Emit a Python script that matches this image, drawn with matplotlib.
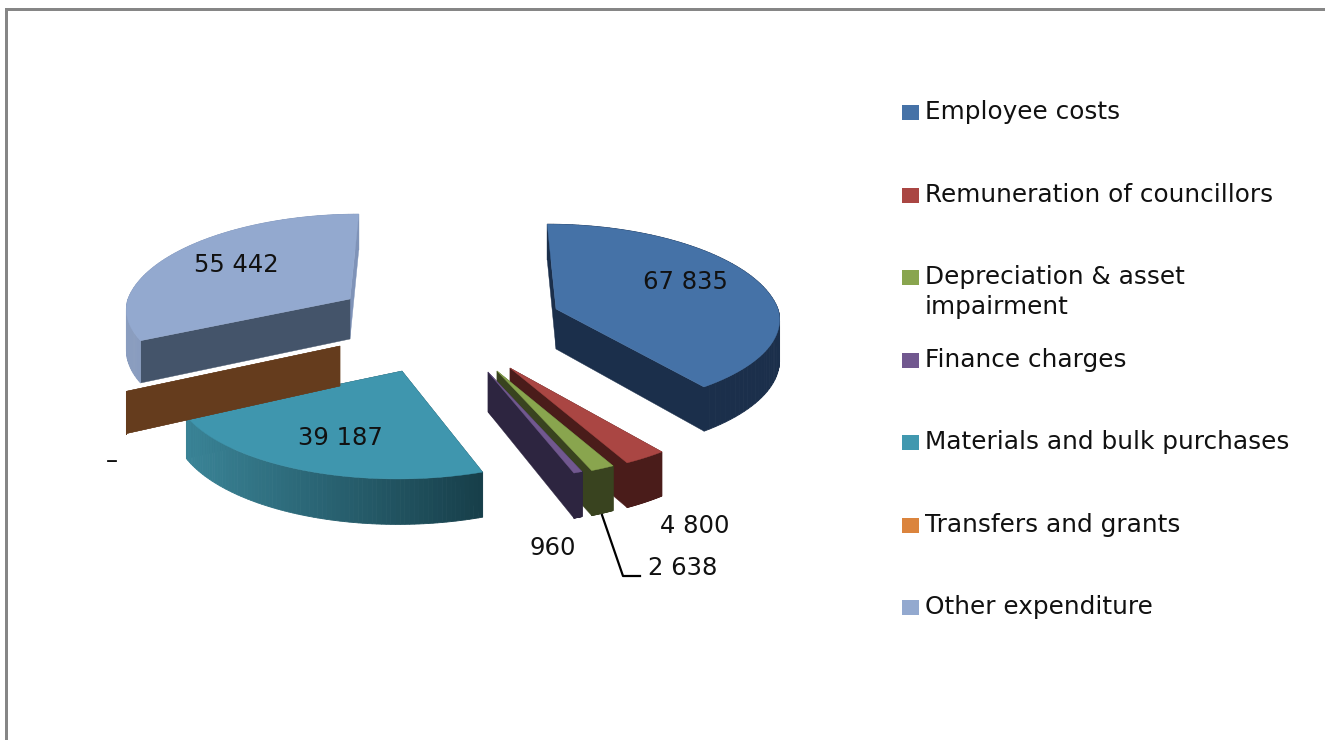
import numpy as np
import matplotlib
matplotlib.use("Agg")
import matplotlib.pyplot as plt
from matplotlib.patches import Rectangle
from matplotlib.colors import to_rgb

plt.rcParams['font.family'] = ['DejaVu Sans']

# datos del grafico
categorias = ['Employee costs', 'Remuneration of councillors',
              'Depreciation & asset\nimpairment', 'Finance charges',
              'Materials and bulk purchases', 'Transfers and grants',
              'Other expenditure']
valores = [67835, 4800, 2638, 960, 39187, 0, 55442]

# colores: leyenda, cara superior, pared radial inicio, pared radial fin, pared exterior (izq, der)
c_leyenda = ['#4572A7', '#AA4643', '#89A54E', '#71588F', '#4198AF', '#DB843D', '#93A9CF']
c_tapa = ['#4572A7', '#AA4643', '#89A54E', '#71588F', '#3F96AE', '#DB843D', '#93A9CF']
c_inicio = ['#1B2F4B', '#4A1C1A', '#39431F', '#2D2540', '#1B4550', '#653C1D', '#44546A']
c_fin = ['#1B2F4B', '#4A1C1A', '#39431F', '#2D2540', '#1B4550', '#653C1D', '#7F93B8']
c_arco = [('#1B2F4B', '#1B2F4B'), ('#4A1C1A', '#4A1C1A'), ('#39431F', '#39431F'),
          ('#2D2540', '#2D2540'), ('#3A8497', '#173F4A'), ('#653C1D', '#653C1D'),
          ('#8A9DBF', '#7F93B8')]

# vertice de cada porcion en pixeles (explosion)
vertices = [(556, 309), (510, 368), (497, 371), (488, 372), (402, 371), (340, 346), (350, 299)]
# las porciones de atras se ven mas cortas hacia delante
escala_y = [0.93, 1, 1, 1, 1, 1, 0.92]
escala_x = [1, 1, 1, 1, 1.02, 1, 1]
orden = [6, 0, 1, 2, 3, 5, 4]

# parametros de la perspectiva
RX, RY, D = 222, 95, 0.12
XC, TILT = 453, 0.085
ALTO = 40


def proyectar(i, ang):
    vx, vy = vertices[i]
    u, v = np.sin(ang), np.cos(ang)
    s = 1 / (1 + D * v)
    # inclinacion hacia el punto de fuga
    v_t = v if vy > 340 else np.maximum(v, 0)
    x = vx + RX * escala_x[i] * u * s - TILT * (vx - XC) * v_t
    y = vy - RY * v * s * np.where(v < 0, escala_y[i], 1)
    return x, y, ALTO * s


fig = plt.figure(figsize=(13.25, 7.4), dpi=100)
ax = fig.add_axes([0, 0, 1, 1])
ax.set_xlim(0, 1325)
ax.set_ylim(740, 0)
ax.axis('off')

# marco gris
ax.add_patch(Rectangle((5, 8), 1320, 2.5, color='#868686', lw=0))
ax.add_patch(Rectangle((5, 8), 3, 732, color='#868686', lw=0))

# angulos acumulados (sentido horario desde las 12)
total = sum(valores)
limites = np.cumsum([0] + valores) / total * 2 * np.pi

for i in orden:
    a0, a1 = limites[i], limites[i + 1]
    vx, vy = vertices[i]
    angs = np.linspace(a0, a1, 80)
    xs, ys, hs = proyectar(i, angs)

    # paredes radiales
    ax.fill([vx, xs[-1], xs[-1], vx], [vy, ys[-1], ys[-1] + hs[-1], vy + ALTO],
            color=c_fin[i], lw=0.3, zorder=i)
    ax.fill([vx, xs[0], xs[0], vx], [vy, ys[0], ys[0] + hs[0], vy + ALTO],
            color=c_inicio[i], lw=0.3, zorder=i)

    # pared exterior con degradado
    c0, c1 = np.array(to_rgb(c_arco[i][0])), np.array(to_rgb(c_arco[i][1]))
    x_min, x_max = xs.min(), xs.max()
    for k in range(len(angs) - 1):
        t = (xs[k] - x_min) / max(x_max - x_min, 1)
        ax.fill([xs[k], xs[k + 1], xs[k + 1], xs[k]],
                [ys[k], ys[k + 1], ys[k + 1] + hs[k + 1], ys[k] + hs[k]],
                color=c0 + (c1 - c0) * t, lw=0.6, zorder=i)

    # cara superior
    if valores[i] > 0:
        ax.fill(np.r_[vx, xs], np.r_[vy, ys], color=c_tapa[i], lw=0.3, zorder=i)

# etiquetas de valores
pos_etiquetas = [(685, 282), (695, 526), (683, 568), (553, 548), (340, 438), (112, 461), (236, 265)]
for val, (x, y) in zip(valores, pos_etiquetas):
    txt = f'{val:,}'.replace(',', ' ') if val > 0 else '–'
    ax.text(x, y, txt, fontsize=17.5, color='#111111', ha='center', va='center', zorder=20)

# linea guia de 2 638
ax.plot([602, 623, 640], [515, 576, 576], color='black', lw=1.6, zorder=20)

# leyenda
ley_y = [112, 195, 277, 360, 442, 525, 607]
for nombre, col, y in zip(categorias, c_leyenda, ley_y):
    ax.add_patch(Rectangle((902, y - 7.5), 17, 15, color=col, lw=0))
    ax.text(925, y - 12, nombre, fontsize=17.8, color='#111111', va='top', ha='left',
            linespacing=1.3)

fig.savefig('out.png', dpi=100)
